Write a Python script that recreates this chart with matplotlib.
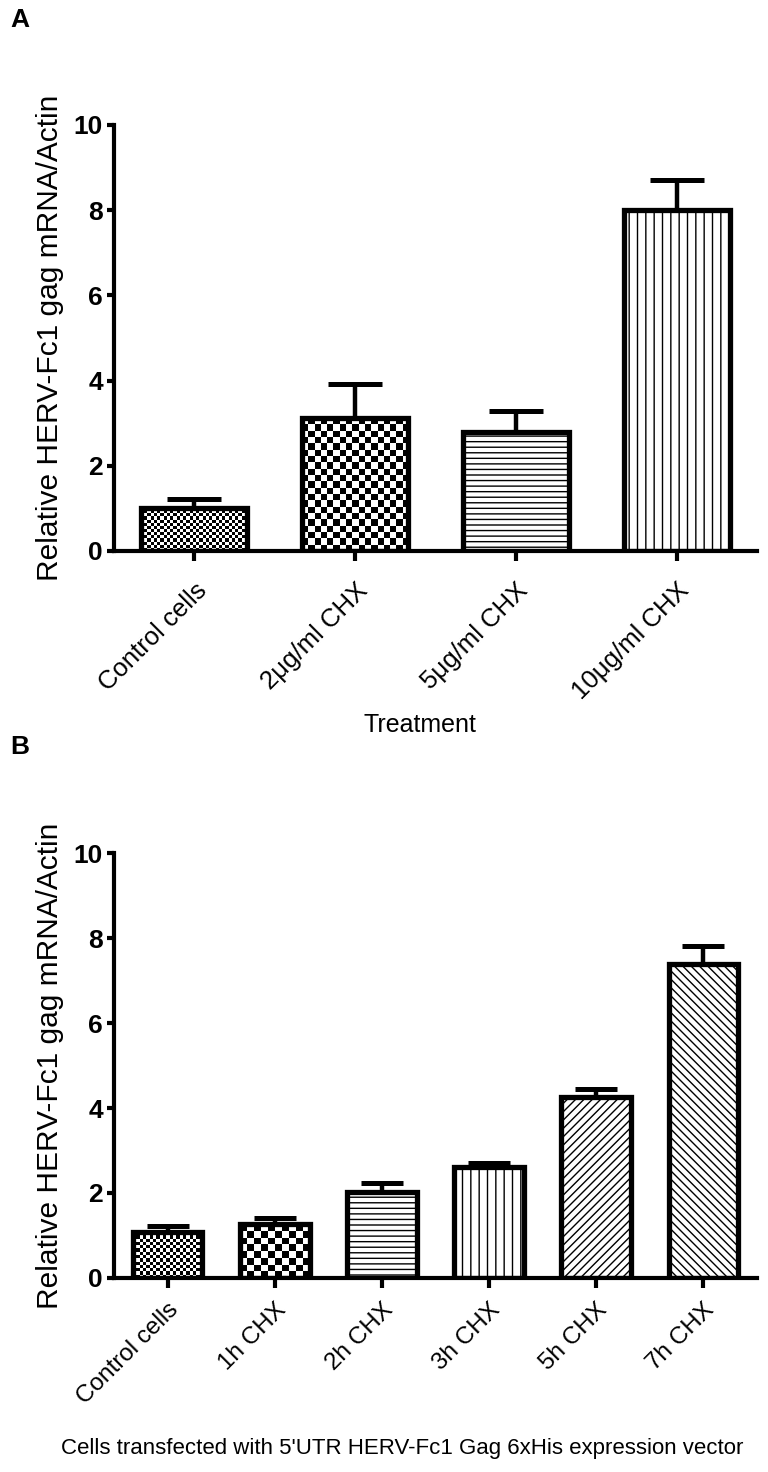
import numpy as np
import matplotlib
matplotlib.use("Agg")
import matplotlib.pyplot as plt

plt.rcParams['font.family'] = ['Liberation Sans', 'DejaVu Sans']
plt.rcParams['hatch.linewidth'] = 1.0

# ---------------- data ----------------
cats_a = ["Control cells", "2μg/ml CHX", "5μg/ml CHX", "10μg/ml CHX"]
vals_a = [1.02, 3.12, 2.79, 8.0]
err_a = [0.2, 0.8, 0.5, 0.71]

cats_b = ["Control cells", "1h CHX", "2h CHX", "3h CHX", "5h CHX", "7h CHX"]
vals_b = [1.08, 1.27, 2.02, 2.6, 4.26, 7.39]
err_b = [0.14, 0.14, 0.21, 0.11, 0.19, 0.42]

yticks = [0, 2, 4, 6, 8, 10]
ylabel = "Relative HERV-Fc1 gag mRNA/Actin"
xlabel_a = "Treatment"
xlabel_b = "Cells transfected with 5'UTR HERV-Fc1 Gag 6xHis expression vector"

# fill styles: ('checker', cell_px) or ('hatch', pattern)
fills_a = [('checker', 3.2), ('checker', 6.4), ('hatch', '---'), ('hatch', '||')]
fills_b = [('checker', 3.3), ('checker', 6.7), ('hatch', '---'), ('hatch', '||'),
           ('hatch', '////'), ('hatch', '\\\\\\\\')]

W, H = 768, 1472
fig = plt.figure(figsize=(W / 100, H / 100), dpi=100)

LW_BAR = 3.8
LW_AX = 3.0


def checker_fill(ax, bar, cell_px):
    x0, y0 = bar.get_x(), bar.get_y()
    w, h = bar.get_width(), bar.get_height()
    p0 = ax.transData.transform((x0, y0))
    p1 = ax.transData.transform((x0 + w, y0 + h))
    nx = max(1, int(round((p1[0] - p0[0]) / cell_px)))
    ny = max(1, int(round((p1[1] - p0[1]) / cell_px)))
    arr = np.indices((ny, nx)).sum(axis=0) % 2
    ax.imshow(arr, extent=(x0, x0 + w, y0, y0 + h), cmap='binary', vmin=0, vmax=1,
              interpolation='nearest', aspect='auto', origin='lower', zorder=1)


def panel(rect, cats, vals, errs, fills, width, capsize, xlabel, xlabel_xy, xlabel_fs,
          xt_fs, xt_pad):
    ax = fig.add_axes(rect)
    n = len(cats)
    x = np.arange(n)
    ax.set_xlim(-0.5, n - 0.5)
    ax.set_ylim(0, 10)
    for i in range(n):
        kind, spec = fills[i]
        if kind == 'checker':
            b = ax.bar(x[i], vals[i], width, facecolor='none', edgecolor='black',
                       linewidth=LW_BAR, zorder=2)[0]
            checker_fill(ax, b, spec)
        else:
            ax.bar(x[i], vals[i], width, facecolor='white', edgecolor='black',
                   linewidth=LW_BAR, hatch=spec, zorder=2)
    ax.errorbar(x, vals, yerr=[np.zeros(n), errs], fmt='none', ecolor='black',
                elinewidth=3.2, capsize=capsize, capthick=3.6, zorder=3)
    ax.set_xlim(-0.5, n - 0.5)
    ax.set_ylim(0, 10)
    for s in ['top', 'right']:
        ax.spines[s].set_visible(False)
    for s in ['left', 'bottom']:
        ax.spines[s].set_linewidth(LW_AX)
    ax.set_yticks(yticks)
    ax.set_yticklabels([str(t) for t in yticks], fontsize=19, fontweight='bold')
    ax.set_xticks(x)
    ax.set_xticklabels(cats, rotation=45, ha='right', rotation_mode='anchor', fontsize=xt_fs)
    ax.tick_params(axis='y', length=5, width=LW_AX, pad=3)
    ax.tick_params(axis='x', length=7, width=LW_AX, pad=xt_pad)
    ax.set_ylabel(ylabel, fontsize=21.5, labelpad=7)
    ax.set_xlabel(xlabel, fontsize=xlabel_fs, va='top')
    ax.xaxis.set_label_coords(*xlabel_xy)
    return ax


axA = panel([0.1484, 0.6257, 0.8373, 0.2894], cats_a, vals_a, err_a, fills_a, 0.66, 19.5,
            xlabel_a, (0.476, -0.380), 18, 18.5, 13)
axB = panel([0.1484, 0.1318, 0.8373, 0.2887], cats_b, vals_b, err_b, fills_b, 0.65, 15,
            xlabel_b, (0.448, -0.3765), 16, 17.5, 8)

fig.text(10 / W, 1 - 8 / H, "A", ha='left', va='top', fontsize=19, fontweight='bold')
fig.text(10 / W, 1 - 735 / H, "B", ha='left', va='top', fontsize=19, fontweight='bold')

fig.savefig("out.png", dpi=100)
